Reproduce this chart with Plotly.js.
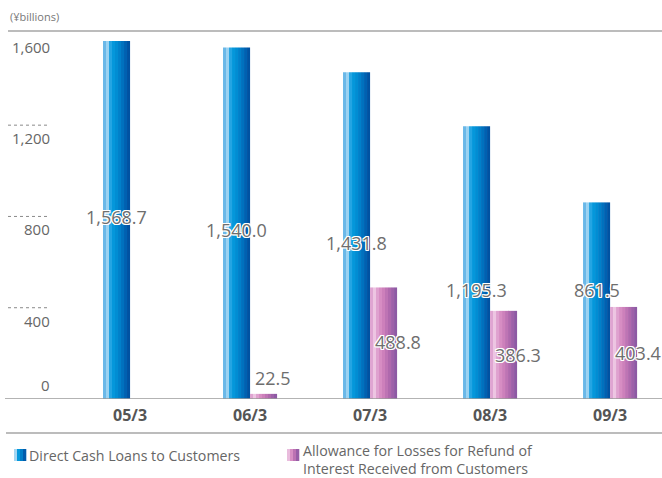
<!DOCTYPE html>
<html>
<head>
<meta charset="utf-8">
<script src="https://cdn.plot.ly/plotly-3.0.1.min.js"></script>
<style>
  html, body { margin: 0; padding: 0; background: #fff; }
  #chart { width: 662px; height: 478px; }
</style>
</head>
<body>
<div id="chart"></div>
<script>
// ---- data ----
const categories = ['05/3', '06/3', '07/3', '08/3', '09/3'];
const directCashLoans = [1568.7, 1540.0, 1431.8, 1195.3, 861.5];
const allowanceForLosses = [null, 22.5, 488.8, 386.3, 403.4];
const yTickVals = [0, 400, 800, 1200, 1600];
const yTickText = ['0', '400', '800', '1,200', '1,600'];
const seriesNames = ['Direct Cash Loans to Customers',
                     'Allowance for Losses for Refund of<br>Interest Received from Customers'];
const unitLabel = '(¥billions)';

// ---- layout constants ----
const W = 662, H = 478;
const M = { l: 5, r: 0, t: 31, b: 79 };
const plotW = W - M.l - M.r, plotH = H - M.t - M.b;
const px2x = px => (px - M.l) / plotW;
const py2y = py => (H - M.b - py) / plotH;
const FONT = 'Open Sans, Noto Sans, sans-serif';

// label placement (data-space y for the value text)
const blueLabelY = [797, 741, 684, 478, 478];
const pinkLabelY = [null, 92, 250, 193, 202];

// gradient stops
const blueStops = [[0, '#2a92da'], [0.08, '#86c8ee'], [0.15, '#b4ddf4'], [0.22, '#4cb0e8'], [0.32, '#069de0'],
                   [0.55, '#0088d0'], [0.8, '#0066b6'], [1, '#004a9a']];
const pinkStops = [[0, '#d690c8'], [0.1, '#e6b6da'], [0.18, '#eec8e4'], [0.3, '#dc98ca'], [0.45, '#d486be'],
                   [0.7, '#b26aae'], [1, '#8656a2']];

function hex(c) { return [1, 3, 5].map(i => parseInt(c.slice(i, i + 2), 16)); }
function colorAt(stops, t) {
  for (let i = 1; i < stops.length; i++) {
    if (t <= stops[i][0]) {
      const [t0, c0] = stops[i - 1], [t1, c1] = stops[i];
      const f = (t - t0) / (t1 - t0);
      const a = hex(c0), b = hex(c1);
      const m = a.map((v, k) => Math.round(v + (b[k] - v) * f));
      return 'rgb(' + m.join(',') + ')';
    }
  }
  return stops[stops.length - 1][1];
}

const BAR_W = 0.225, N = 9;
const traces = [];
function addStriped(values, baseOffset, stops, name) {
  const w = BAR_W / N;
  for (let k = 0; k < N; k++) {
    traces.push({
      type: 'bar', x: categories, y: values, name: name,
      offset: baseOffset + k * w, width: w * 1.02,
      marker: { color: colorAt(stops, (k + 0.5) / N), line: { width: 0 } },
      showlegend: false, hoverinfo: 'skip'
    });
  }
}
addStriped(directCashLoans, -BAR_W, blueStops, seriesNames[0]);
addStriped(allowanceForLosses, 0, pinkStops, seriesNames[1]);

const fmt = v => v.toLocaleString('en-US', { minimumFractionDigits: 1, maximumFractionDigits: 1 });
const outline = '1px 0 0 #fff, -1px 0 0 #fff, 0 1px 0 #fff, 0 -1px 0 #fff, 1px 1px 0 #fff, -1px -1px 0 #fff, 1px -1px 0 #fff, -1px 1px 0 #fff';
const valueFont = { family: FONT, size: 18, color: '#6e6e6e', shadow: outline };

const annotations = [];
categories.forEach((c, i) => {
  if (directCashLoans[i] != null) {
    annotations.push({ x: c, y: blueLabelY[i], xref: 'x', yref: 'y', text: fmt(directCashLoans[i]),
      showarrow: false, xanchor: 'center', yanchor: 'middle', xshift: -13.5, font: valueFont });
  }
  if (allowanceForLosses[i] != null) {
    annotations.push({ x: c, y: pinkLabelY[i], xref: 'x', yref: 'y', text: fmt(allowanceForLosses[i]),
      showarrow: false, xanchor: 'left', yanchor: 'middle', xshift: 3, font: valueFont });
  }
});
// y tick labels
yTickVals.forEach((v, i) => {
  annotations.push({ x: px2x(52), xref: 'paper', y: v, yref: 'y', text: yTickText[i], showarrow: false,
    xanchor: 'right', yanchor: 'middle', yshift: v === 0 ? 14 : -13,
    font: { family: FONT, size: 15, color: '#666' } });
});
annotations.push({ x: px2x(8), xref: 'paper', y: py2y(17), yref: 'paper', text: unitLabel, showarrow: false,
  xanchor: 'left', yanchor: 'middle', font: { family: FONT, size: 11, color: '#777' } });
// legend text
const legFont = { family: FONT, size: 14.2, color: '#666' };
annotations.push({ x: px2x(28), xref: 'paper', y: py2y(455), yref: 'paper', text: seriesNames[0], showarrow: false,
  xanchor: 'left', yanchor: 'middle', borderpad: 0, font: legFont });
annotations.push({ x: px2x(302), xref: 'paper', y: py2y(459.5), yref: 'paper', text: seriesNames[1], showarrow: false,
  xanchor: 'left', yanchor: 'middle', align: 'left', borderpad: 0, font: legFont });

const shapes = [];
// top rule, baseline, bottom rule
shapes.push({ type: 'line', xref: 'paper', yref: 'paper', x0: px2x(8), x1: 1, y0: 1, y1: 1,
  line: { color: '#a6a6a6', width: 1.5 } });
shapes.push({ type: 'line', xref: 'paper', yref: 'y', x0: 0, x1: 1, y0: 0, y1: 0,
  line: { color: '#9a9a9a', width: 1.5 }, layer: 'above' });
shapes.push({ type: 'line', xref: 'paper', yref: 'paper', x0: px2x(6), x1: 1, y0: py2y(433), y1: py2y(433),
  line: { color: '#a6a6a6', width: 1.5 } });
// short dotted gridlines
yTickVals.filter(v => v > 0 && v < 1600).forEach(v => {
  shapes.push({ type: 'line', xref: 'paper', yref: 'y', x0: px2x(8), x1: px2x(50), y0: v, y1: v,
    line: { color: '#8a8a8a', width: 1, dash: 'dot' } });
});
// legend swatches
function swatch(x0px, stops) {
  const n = 4, w = 12 / n;
  for (let k = 0; k < n; k++) {
    shapes.push({ type: 'rect', xref: 'paper', yref: 'paper',
      x0: px2x(x0px + k * w), x1: px2x(x0px + (k + 1) * w + 0.3), y0: py2y(461), y1: py2y(449),
      line: { width: 0 }, fillcolor: colorAt(stops, (k + 0.5) / n) });
  }
}
swatch(14, blueStops);
swatch(287, pinkStops);

const layout = {
  width: W, height: H,
  margin: M,
  paper_bgcolor: '#fff', plot_bgcolor: '#fff',
  barmode: 'overlay',
  showlegend: false,
  xaxis: {
    type: 'category', range: [-1.0417, 4.433], fixedrange: true,
    showgrid: false, zeroline: false, showline: false, ticks: '',
    tickfont: { family: FONT, size: 16, color: '#555', weight: 'bold' },
    ticklabelstandoff: 5
  },
  yaxis: {
    range: [0, 1612.6], fixedrange: true,
    showgrid: false, zeroline: false, showline: false, showticklabels: false, ticks: ''
  },
  annotations: annotations,
  shapes: shapes
};

Plotly.newPlot('chart', traces, layout, { displayModeBar: false, staticPlot: true });
</script>
</body>
</html>
